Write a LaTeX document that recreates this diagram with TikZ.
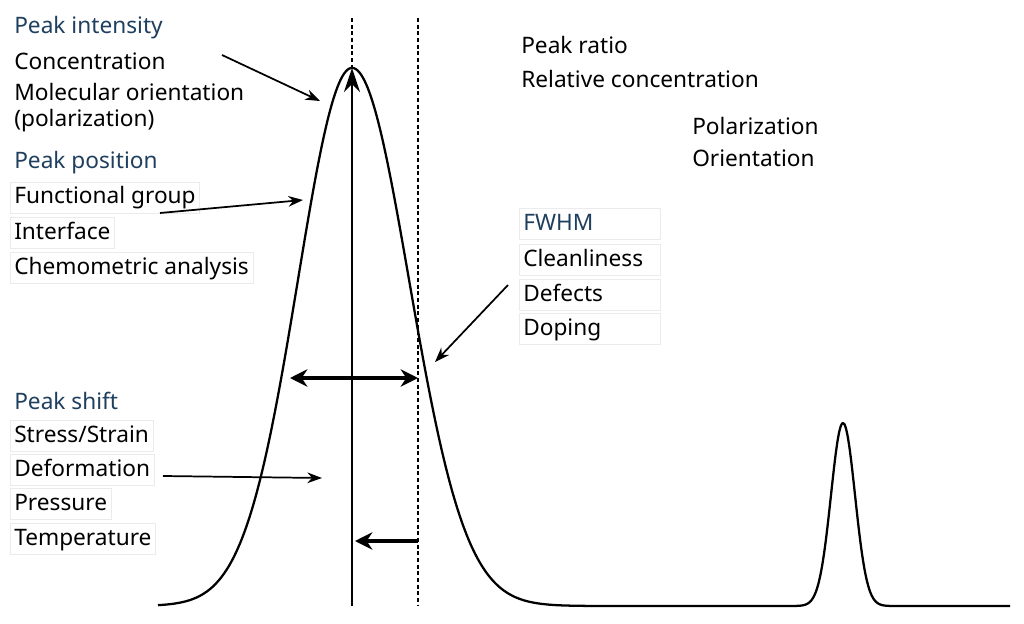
\documentclass[tikz,border=0pt]{standalone}
\usepackage{fontspec}
\setmainfont{Noto Sans}
\usetikzlibrary{arrows.meta}
\definecolor{ttl}{HTML}{1F3F5F}
\begin{document}
\begin{tikzpicture}[x=0.75pt,y=-0.75pt,
 lab/.style={anchor=west,inner sep=3pt,font=\fontsize{17}{19}\selectfont},
 bx/.style={lab,draw=black!8,text height=13pt,text depth=4pt},
 rbx/.style={bx,text width=100pt,align=left},
 ttl/.style={lab,text=ttl},
 arr/.style={-{Stealth[length=11pt,width=8pt]},line width=1.3pt}]
\useasboundingbox (0,0) rectangle (1024,624);
% curve
\draw[line width=1.7pt,line join=round] plot[domain=158:1010,samples=500,smooth]
 (\x,{606-538*exp(-((\x-352)/(\x<352?54:57))^2/2)-183*exp(-((\x-843)/12)^2/2)});
% lines
\coordinate (b1) at (352,606); \coordinate (t1) at (352,68);
\coordinate (d1a) at (352,18); \coordinate (d2a) at (418,18); \coordinate (d2b) at (418,606);
\draw[line width=1.1pt,dash pattern=on 3pt off 2pt] (d1a) -- (b1);
\draw[line width=1.1pt,dash pattern=on 3pt off 2pt] (d2a) -- (d2b);
\draw[line width=2.2pt,-{Stealth[length=18pt,width=12pt]}] (b1) -- (t1);
\coordinate (hl) at (290,378); \coordinate (hr) at (418,378);
\draw[line width=2.5pt,{Stealth[length=13pt,width=13pt]}-{Stealth[length=13pt,width=13pt]}] (hl) -- (hr);
\coordinate (sa) at (418,541); \coordinate (sb) at (355,541);
\draw[line width=3pt,-{Stealth[length=13pt,width=13pt]}] (sa) -- (sb);
% labels
\node[ttl] (pi) at (10,28) {Peak intensity};
\node[lab] (c) at (10,61) {Concentration};
\node[lab] (mo) at (10,92) {Molecular orientation};
\node[lab] (po) at (10,121) {(polarization)};
\node[ttl] (pp) at (10,163) {Peak position};
\node[bx] (fg) at (10,198) {Functional group};
\node[bx] (if) at (10,233) {Interface};
\node[bx] (ca) at (10,268) {Chemometric analysis};
\node[ttl] (ps) at (10,401) {Peak shift};
\node[bx] (ss) at (10,436) {Stress/Strain};
\node[bx] (de) at (10,470) {Deformation};
\node[bx] (pr) at (10,504) {Pressure};
\node[bx] (te) at (10,539) {Temperature};
\node[lab] (pr1) at (517,45) {Peak ratio};
\node[lab] (rc) at (517,79) {Relative concentration};
\node[lab] (pl) at (688,126) {Polarization};
\node[lab] (or) at (688,158) {Orientation};
\node[rbx,text=ttl] (fw) at (519,224) {FWHM};
\node[rbx] (cl) at (519,260) {Cleanliness};
\node[rbx] (df) at (519,295) {Defects};
\node[rbx] (dp) at (519,329) {Doping};
% arrows
\coordinate (a1s) at (222,55); \coordinate (a1e) at (320,101);
\coordinate (a2s) at (160,213); \coordinate (a2e) at (303,200);
\coordinate (a3s) at (163,476); \coordinate (a3e) at (322,478);
\coordinate (a4s) at (508,285); \coordinate (a4e) at (435,362);
\draw[arr] (a1s) -- (a1e);
\draw[arr] (a2s) -- (a2e);
\draw[arr] (a3s) -- (a3e);
\draw[arr] (a4s) -- (a4e);
\end{tikzpicture}
\end{document}
